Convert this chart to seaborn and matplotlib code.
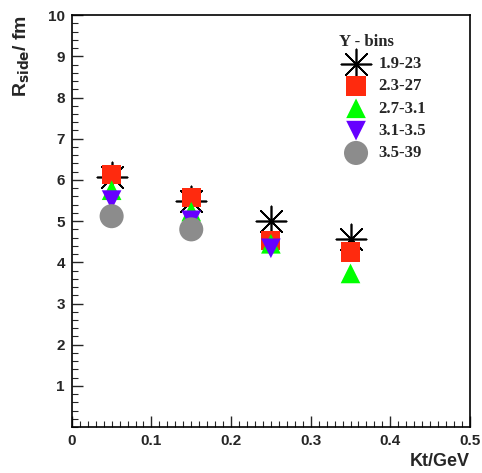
import numpy as np
import pandas as pd
import matplotlib
matplotlib.use("Agg")
import matplotlib.pyplot as plt
from matplotlib.ticker import MultipleLocator
import seaborn as sns

# Kt bins and R_side values per rapidity bin
KT = [0.05, 0.15, 0.25, 0.35]
LABELS = ["1.9-23", "2.3-27", "2.7-3.1", "3.1-3.5", "3.5-39"]
R_19_23 = [6.08, 5.49, 5.00, 4.56]
R_23_27 = [6.14, 5.58, 4.52, 4.25]
R_27_31 = [5.75, 5.23, 4.45, 3.73]
R_31_35 = [5.51, 5.02, 4.34, np.nan]
R_35_39 = [5.12, 4.80, np.nan, np.nan]

SERIES = [R_19_23, R_23_27, R_27_31, R_31_35, R_35_39]
COLORS = ["black", "#ff2a0e", "#00ff00", "#6600ff", "#8c8c8c"]
MARKERS = [(8, 2, 0), "s", "^", "v", "o"]
SIZES = [470, 190, 200, 200, 300]

sns.set_style("ticks")
plt.rcParams["font.family"] = ["Liberation Sans", "DejaVu Sans"]

fig = plt.figure(figsize=(4.82, 4.73), dpi=100)
ax = fig.add_axes([0.149, 0.097, 0.826, 0.871])

for label, vals, color, marker, size in zip(LABELS, SERIES, COLORS, MARKERS, SIZES):
    df = pd.DataFrame({"kt": KT, "r": vals}).dropna()
    if marker == (8, 2, 0):
        sns.scatterplot(data=df, x="kt", y="r", ax=ax, marker=marker, s=size,
                        color=color, linewidth=1.2, label=label, zorder=3)
        ax.scatter(df["kt"], df["r"], s=12, color="black", marker="s", zorder=3)
    else:
        sns.scatterplot(data=df, x="kt", y="r", ax=ax, marker=marker, s=size,
                        color=color, edgecolor="none", linewidth=0, label=label, zorder=3)

ax.set_xlim(0, 0.5)
ax.set_ylim(0, 10)
ax.xaxis.set_major_locator(MultipleLocator(0.1))
ax.xaxis.set_minor_locator(MultipleLocator(0.01))
ax.yaxis.set_major_locator(MultipleLocator(1))
ax.yaxis.set_minor_locator(MultipleLocator(0.2))
ax.set_yticks(range(1, 11))
ax.set_xticks([0, 0.1, 0.2, 0.3, 0.4, 0.5])
ax.set_xticklabels(["0", "0.1", "0.2", "0.3", "0.4", "0.5"])
ax.tick_params(which="major", direction="in", length=8, width=1, labelsize=11,
               top=False, right=False, pad=5)
ax.tick_params(which="minor", direction="in", length=4, width=0.8,
               top=False, right=False)
for lab in ax.get_xticklabels() + ax.get_yticklabels():
    lab.set_fontweight("bold")
for sp in ax.spines.values():
    sp.set_visible(True)
    sp.set_linewidth(1.2)
    sp.set_color("black")

ax.set_xlabel("Kt/GeV", fontsize=13, loc="right", fontweight="bold")
ax.xaxis.set_label_coords(1.0, -0.062)
ax.set_ylabel(r"R$_{\mathbf{side}}$/ fm", fontsize=14, loc="top", fontweight="bold")
ax.yaxis.set_label_coords(-0.1, 1.0)

leg = ax.legend(title="Y - bins", loc="upper left", bbox_to_anchor=(0.672, 0.955),
                frameon=False, handletextpad=0.35, labelspacing=0.38, borderaxespad=0,
                borderpad=0, alignment="left",
                prop={"family": "Liberation Serif", "weight": "bold", "size": 12},
                markerscale=1.0)
leg.get_title().set_fontfamily("Liberation Serif")
leg.get_title().set_fontweight("bold")
leg.get_title().set_fontsize(12)

fig.savefig("out.png", dpi=100)
